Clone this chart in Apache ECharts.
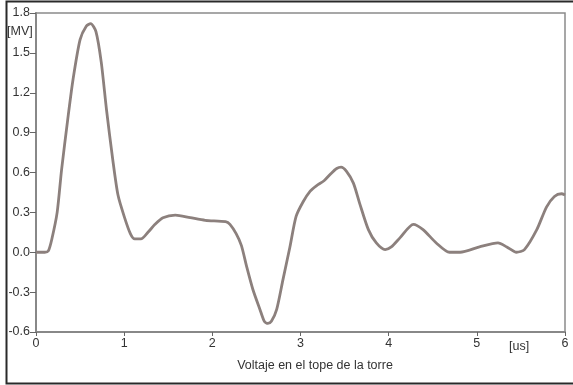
<!DOCTYPE html>
<html>
<head>
<meta charset="utf-8">
<script src="https://cdn.jsdelivr.net/npm/echarts@6/dist/echarts.min.js"></script>
<style>
  html, body { margin: 0; padding: 0; background: #fff; }
  #chart { width: 573px; height: 385px; }
</style>
</head>
<body>
<div id="chart"></div>
<script>
// Tower-top voltage waveform: time in microseconds, voltage in MV
const timeUs = [0, 0.1, 0.14, 0.18, 0.24, 0.29, 0.36, 0.42, 0.5, 0.57, 0.62, 0.68, 0.74, 0.8, 0.87, 0.93,
  1.0, 1.07, 1.12, 1.19, 1.27, 1.35, 1.44, 1.58, 1.75, 1.92, 2.15, 2.2, 2.27, 2.33, 2.39, 2.46, 2.54,
  2.59, 2.63, 2.67, 2.73, 2.8, 2.88, 2.95, 3.03, 3.11, 3.18, 3.27, 3.35, 3.41, 3.46, 3.52, 3.6, 3.67,
  3.77, 3.86, 3.96, 4.03, 4.13, 4.28, 4.39, 4.54, 4.69, 4.81, 5.03, 5.24, 5.34, 5.45, 5.54, 5.68,
  5.79, 5.88, 5.96, 6.0];
const voltageMV = [0, 0, 0.01, 0.1, 0.3, 0.62, 1.0, 1.3, 1.6, 1.70, 1.72, 1.66, 1.43, 1.07, 0.70, 0.43,
  0.27, 0.14, 0.10, 0.10, 0.15, 0.21, 0.26, 0.28, 0.26, 0.24, 0.23, 0.21, 0.14, 0.05, -0.11, -0.28, -0.43,
  -0.52, -0.535, -0.52, -0.43, -0.21, 0.04, 0.27, 0.38, 0.46, 0.50, 0.54, 0.595, 0.63, 0.64, 0.61, 0.52, 0.37,
  0.17, 0.07, 0.02, 0.04, 0.11, 0.21, 0.17, 0.07, 0.0, 0.0, 0.04, 0.07, 0.04, 0.0, 0.02, 0.17,
  0.34, 0.42, 0.44, 0.43];
const xTicks = [0, 1, 2, 3, 4, 5, 6];
const yTicks = [-0.6, -0.3, 0.0, 0.3, 0.6, 0.9, 1.2, 1.5, 1.8];

const chart = echarts.init(document.getElementById('chart'), null, { renderer: 'canvas' });
const font = 'Liberation Sans, Arial, sans-serif';
const fs = 12.5;

chart.setOption({
  animation: false,
  backgroundColor: '#ffffff',
  grid: {
    left: 36, right: 8, top: 13, bottom: 53,
    show: true, borderColor: '#8a8a8a', borderWidth: 1.5, backgroundColor: 'transparent'
  },
  title: {
    text: 'Voltaje en el tope de la torre',
    left: 310, top: 354, textAlign: 'center',
    textStyle: { fontFamily: font, fontSize: fs, fontWeight: 'normal', color: '#333' }
  },
  graphic: [
    {
      type: 'rect', silent: true,
      shape: { x: 6.5, y: 1.5, width: 580, height: 382 },
      style: { fill: 'none', stroke: '#2a2a2a', lineWidth: 2 }
    },
    {
      type: 'text', left: 7, top: 25,
      style: { text: '[MV]', font: fs + 'px ' + font, fill: '#333' }
    },
    {
      type: 'text', left: 509, top: 340,
      style: { text: '[us]', font: fs + 'px ' + font, fill: '#333' }
    }
  ],
  xAxis: {
    type: 'value', min: xTicks[0], max: xTicks[xTicks.length - 1], interval: 1,
    axisLine: { onZero: false, lineStyle: { color: '#888', width: 2 } },
    axisTick: { show: true, length: 4, lineStyle: { color: '#666', width: 1 } },
    axisLabel: { fontFamily: font, fontSize: fs, color: '#333', margin: 5 },
    splitLine: { show: false }
  },
  yAxis: {
    type: 'value', min: yTicks[0], max: yTicks[yTicks.length - 1], interval: 0.3,
    axisLine: { show: true, onZero: false, lineStyle: { color: '#888', width: 2 } },
    axisTick: { show: true, length: 6, lineStyle: { color: '#666', width: 1 } },
    axisLabel: {
      fontFamily: font, fontSize: fs, color: '#333', margin: 6,
      formatter: v => v.toFixed(1)
    },
    splitLine: { show: false }
  },
  series: [{
    type: 'line',
    data: timeUs.map((t, i) => [t, voltageMV[i]]),
    smooth: 0.25,
    showSymbol: false,
    lineStyle: { color: '#8c807d', width: 2.8 }
  }]
});
</script>
</body>
</html>
